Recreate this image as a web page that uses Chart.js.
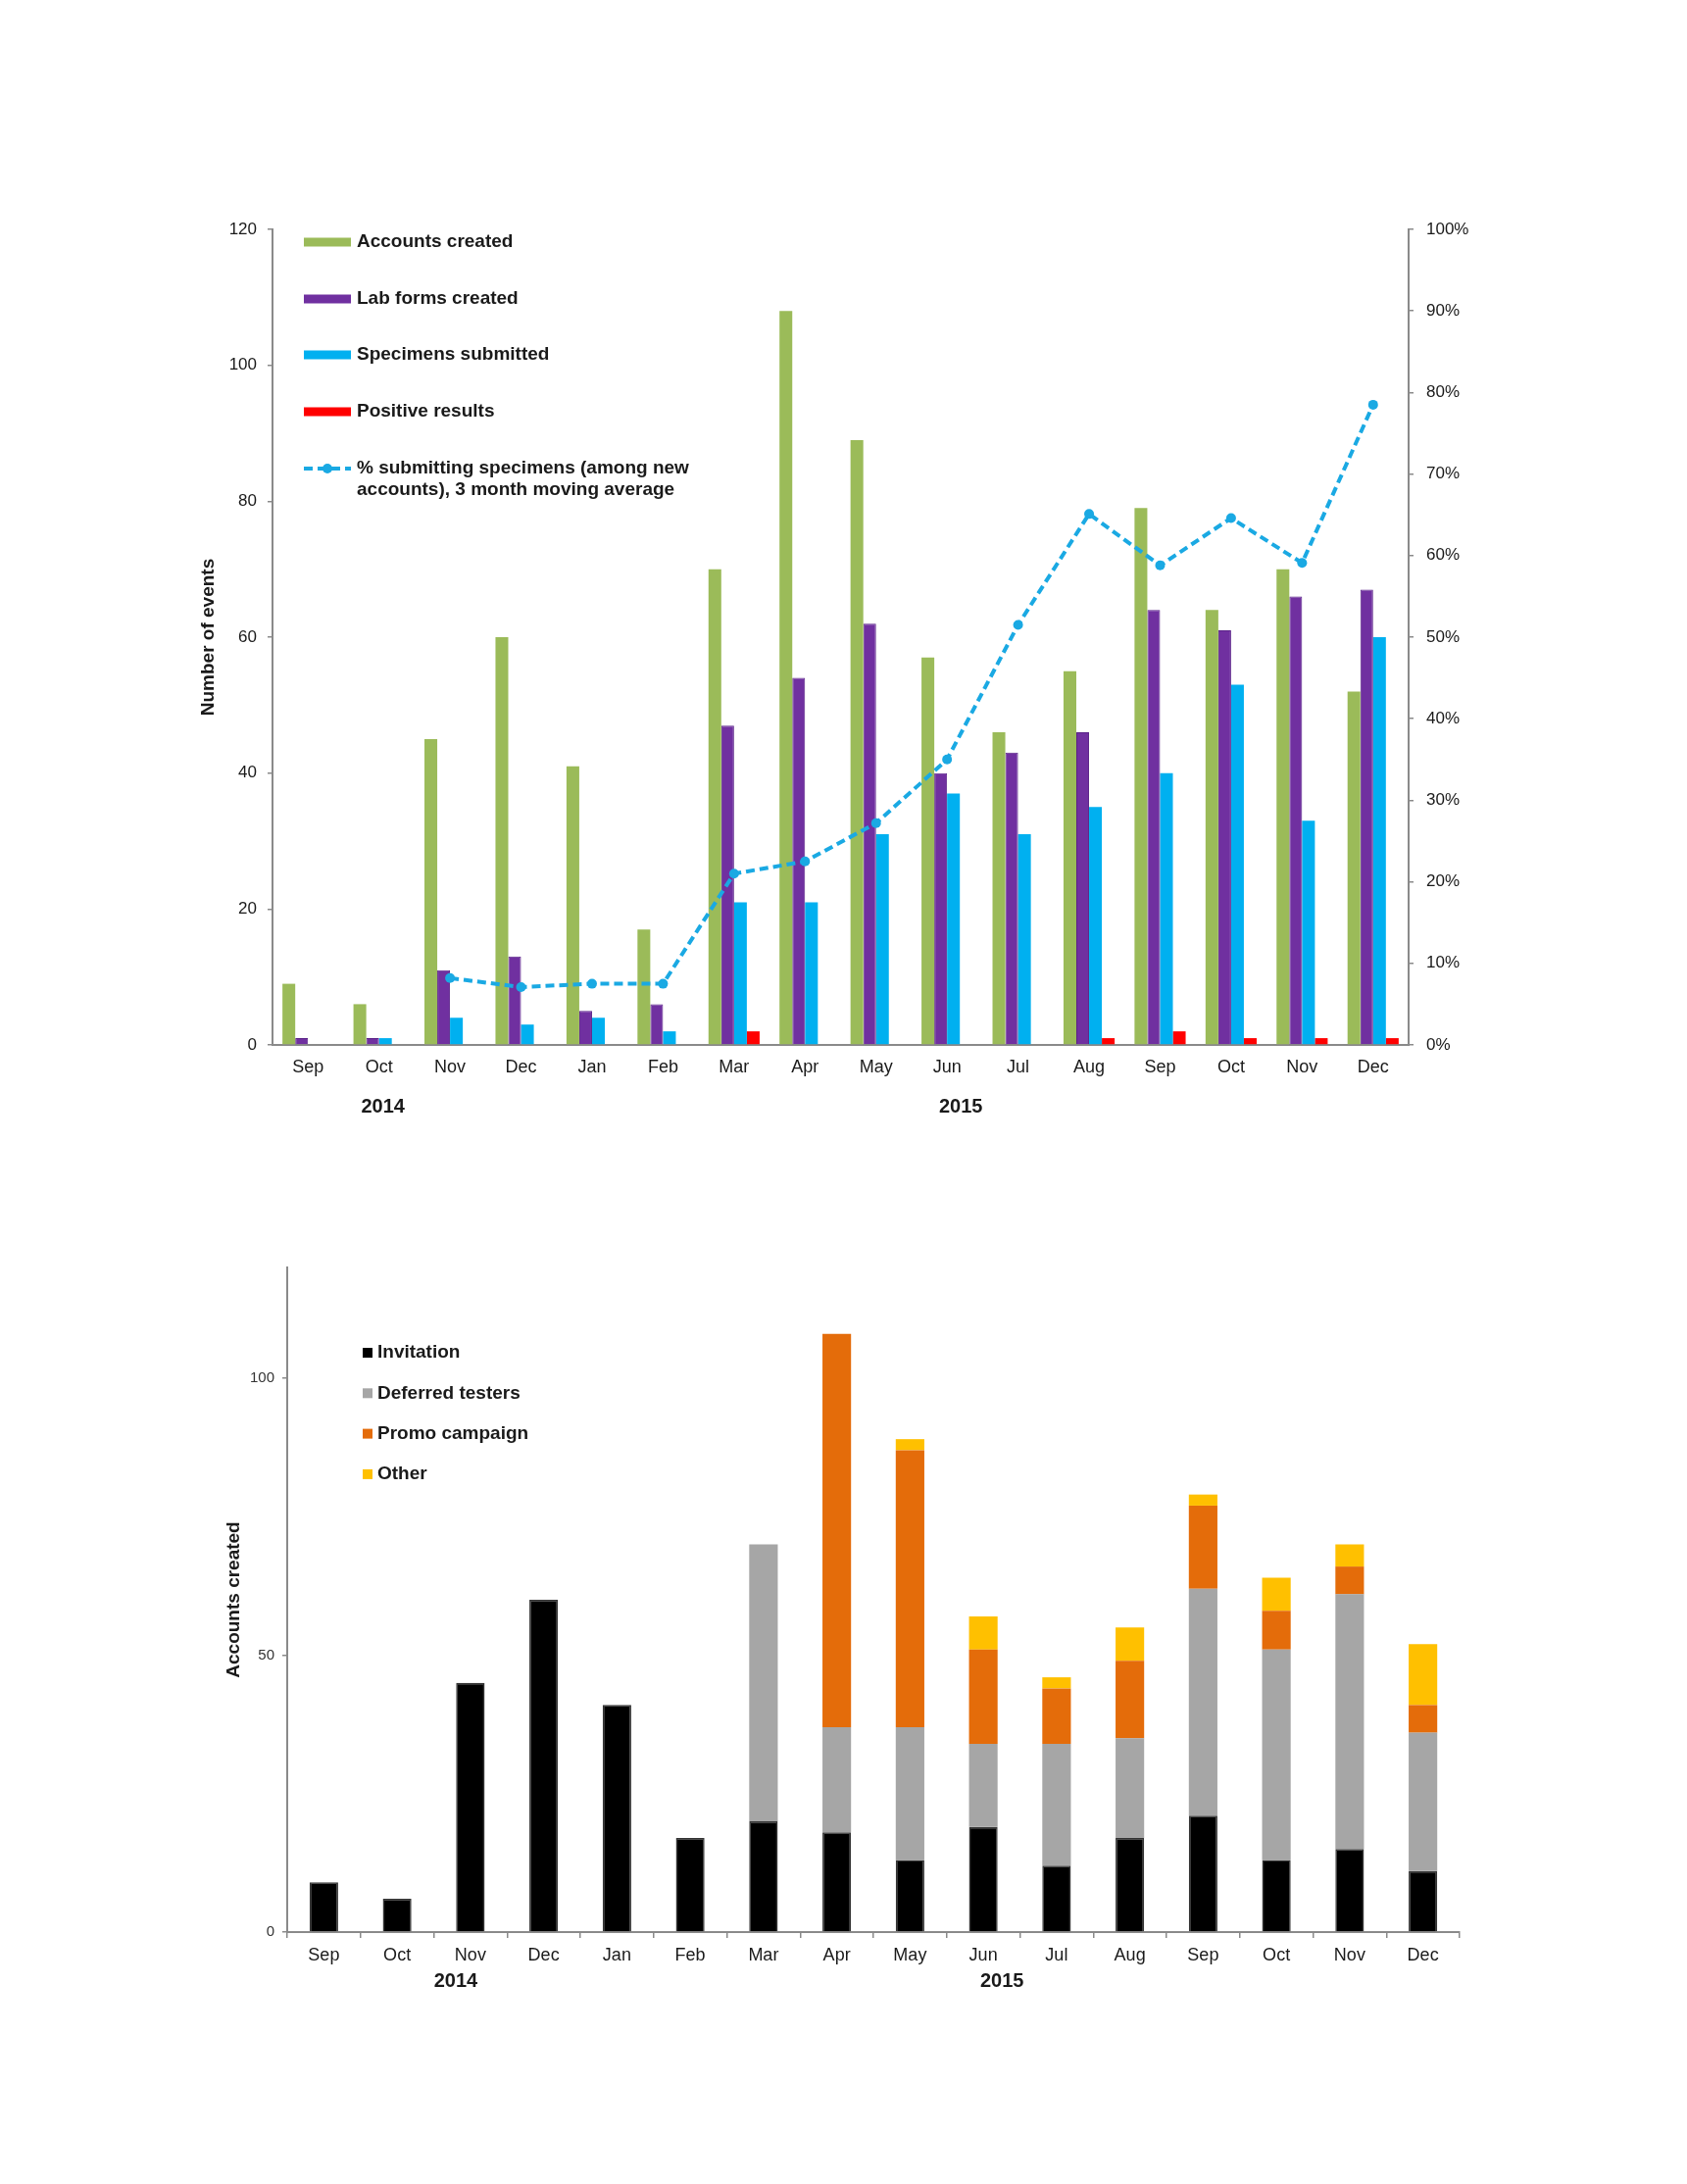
<!DOCTYPE html>
<html>
<head>
<meta charset="utf-8">
<script src="https://cdn.jsdelivr.net/npm/chart.js@4.4.1/dist/chart.umd.min.js"></script>
<style>
    html, body { margin: 0; padding: 0; background: #fff; }
    #page { position: relative; width: 1721px; height: 2228px; overflow: hidden; background: #fff; }
    #eventsChart { position: absolute; left: 0; top: 0; }
    #accountsChart { position: absolute; left: 0; top: 1150px; }
</style>
</head>
<body>
<div id="page">
    <canvas id="eventsChart" width="1721" height="1150"></canvas>
    <canvas id="accountsChart" width="1721" height="1078"></canvas>
</div>
<script>
// months, Sep 2014 - Dec 2015
var months = ['Sep', 'Oct', 'Nov', 'Dec', 'Jan', 'Feb', 'Mar', 'Apr', 'May', 'Jun', 'Jul', 'Aug', 'Sep', 'Oct', 'Nov', 'Dec'];

// top chart
var accountsCreated = [9, 6, 45, 60, 41, 17, 70, 108, 89, 57, 46, 55, 79, 64, 70, 52];
var labFormsCreated = [1, 1, 11, 13, 5, 6, 47, 54, 62, 40, 43, 46, 64, 61, 66, 67];
var specimensSubmitted = [0, 1, 4, 3, 4, 2, 21, 21, 31, 37, 31, 35, 40, 53, 33, 60];
var positiveResults = [0, 0, 0, 0, 0, 0, 2, 0, 0, 0, 0, 1, 2, 1, 1, 1];
var pctSubmitting = [null, null, 8.2, 7.1, 7.5, 7.5, 21.0, 22.5, 27.2, 35.0, 51.5, 65.1, 58.8, 64.6, 59.1, 78.5];
var eventTicks = [0, 20, 40, 60, 80, 100, 120];
var pctTicks = [0, 10, 20, 30, 40, 50, 60, 70, 80, 90, 100];

// bottom chart, accounts created by source
var invitation = [9, 6, 45, 60, 41, 17, 20, 18, 13, 19, 12, 17, 21, 13, 15, 11];
var deferredTesters = [0, 0, 0, 0, 0, 0, 50, 19, 24, 15, 22, 18, 41, 38, 46, 25];
var promoCampaign = [0, 0, 0, 0, 0, 0, 0, 71, 50, 17, 10, 14, 15, 7, 5, 5];
var otherSource = [0, 0, 0, 0, 0, 0, 0, 0, 2, 6, 2, 6, 2, 6, 4, 11];
var accountTicks = [0, 50, 100];

var FONT = '"Liberation Sans", Arial, Helvetica, sans-serif';
var AXIS_COLOR = '#8a8a8a';
Chart.defaults.font.family = FONT;
Chart.defaults.color = '#1a1a1a';

// year captions under the month labels
var yearLabels = {
    id: 'yearLabels',
    afterDraw: function (chart, args, opts) {
        var ctx = chart.ctx;
        var x = chart.scales.x;
        ctx.save();
        ctx.font = 'bold 20px ' + FONT;
        ctx.fillStyle = '#1a1a1a';
        ctx.textAlign = 'center';
        ctx.textBaseline = 'middle';
        opts.items.forEach(function (it) {
            ctx.fillText(it.text, x.getPixelForValue(it.index) + it.dx, opts.y);
        });
        ctx.restore();
    }
};

// legend drawn inside the plot, like the original
var eventsLegend = {
    id: 'eventsLegend',
    afterDraw: function (chart) {
        var ctx = chart.ctx;
        var ds = chart.data.datasets;
        var rows = [247, 305, 362, 420];
        ctx.save();
        ctx.font = 'bold 19px ' + FONT;
        ctx.textBaseline = 'middle';
        for (var i = 0; i < 4; i++) {
            ctx.fillStyle = ds[i + 1].backgroundColor;
            ctx.fillRect(310, rows[i] - 4.5, 48, 9);
            ctx.fillStyle = '#1a1a1a';
            ctx.fillText(ds[i + 1].label, 364, rows[i]);
        }
        var line = ds[0];
        ctx.strokeStyle = line.borderColor;
        ctx.lineWidth = 4;
        ctx.setLineDash([9, 5]);
        ctx.beginPath();
        ctx.moveTo(310, 478);
        ctx.lineTo(358, 478);
        ctx.stroke();
        ctx.setLineDash([]);
        ctx.fillStyle = line.borderColor;
        ctx.beginPath();
        ctx.arc(334, 478, 5, 0, Math.PI * 2);
        ctx.fill();
        ctx.fillStyle = '#1a1a1a';
        ctx.fillText(line.label[0], 364, 478);
        ctx.fillText(line.label[1], 364, 500);
        ctx.restore();
    }
};

var accountsLegend = {
    id: 'accountsLegend',
    afterDraw: function (chart) {
        var ctx = chart.ctx;
        var ds = chart.data.datasets;
        ctx.save();
        ctx.font = 'bold 19px ' + FONT;
        ctx.textBaseline = 'middle';
        for (var i = 0; i < ds.length; i++) {
            var y = 230 + i * 41.3;
            ctx.fillStyle = ds[i].backgroundColor;
            ctx.fillRect(370, y - 5, 10, 10);
            ctx.fillStyle = '#1a1a1a';
            ctx.fillText(ds[i].label, 385, y);
        }
        ctx.restore();
    }
};

function fixWidth(w) {
    return function (scale) { scale.width = w; };
}
function fixHeight(h) {
    return function (scale) { scale.height = h; };
}

function renderEvents() {
    var ctx = document.getElementById('eventsChart').getContext('2d');
    new Chart(ctx, {
        type: 'bar',
        data: {
            labels: months,
            datasets: [{
                type: 'line',
                label: ['% submitting specimens (among new', 'accounts), 3 month moving average'],
                data: pctSubmitting,
                yAxisID: 'y2',
                borderColor: '#1aa9e3',
                backgroundColor: '#1aa9e3',
                borderWidth: 4,
                borderDash: [9, 5],
                pointRadius: 5,
                pointBorderWidth: 0,
                pointBackgroundColor: '#1aa9e3',
                tension: 0,
                order: 0
            }, {
                label: 'Accounts created',
                data: accountsCreated,
                backgroundColor: '#9bbb59',
                order: 1
            }, {
                label: 'Lab forms created',
                data: labFormsCreated,
                backgroundColor: '#7030a0',
                borderColor: '#5a2288',
                borderWidth: 1,
                order: 1
            }, {
                label: 'Specimens submitted',
                data: specimensSubmitted,
                backgroundColor: '#00b0f0',
                order: 1
            }, {
                label: 'Positive results',
                data: positiveResults,
                backgroundColor: '#ff0000',
                order: 1
            }]
        },
        options: {
            responsive: false,
            animation: false,
            layout: {padding: {top: 234, left: 0, right: 0, bottom: 0}},
            datasets: {bar: {categoryPercentage: 0.72, barPercentage: 1.0}},
            plugins: {
                legend: {display: false},
                tooltip: {enabled: false},
                yearLabels: {
                    y: 1129,
                    items: [{text: '2014', index: 1, dx: 4}, {text: '2015', index: 9, dx: 14}]
                }
            },
            scales: {
                x: {
                    grid: {display: false, drawTicks: false},
                    border: {display: true, color: AXIS_COLOR, width: 2},
                    ticks: {font: {size: 18}, padding: 12, maxRotation: 0, autoSkip: false},
                    afterFit: fixHeight(84)
                },
                y: {
                    position: 'left',
                    min: 0,
                    max: 120,
                    afterBuildTicks: function (scale) {
                        scale.ticks = eventTicks.map(function (v) { return {value: v}; });
                    },
                    grid: {drawOnChartArea: false, drawTicks: true, tickLength: 5, color: AXIS_COLOR, lineWidth: 1.5},
                    border: {display: true, color: AXIS_COLOR, width: 2},
                    ticks: {font: {size: 17}, padding: 11},
                    title: {display: true, text: 'Number of events', font: {size: 19, weight: 'bold'}, padding: {top: 201, bottom: 0}},
                    afterFit: fixWidth(278)
                },
                y2: {
                    position: 'right',
                    min: 0,
                    max: 100,
                    afterBuildTicks: function (scale) {
                        scale.ticks = pctTicks.map(function (v) { return {value: v}; });
                    },
                    grid: {drawOnChartArea: false, drawTicks: true, tickLength: 5, color: AXIS_COLOR, lineWidth: 1.5},
                    border: {display: true, color: AXIS_COLOR, width: 2},
                    ticks: {
                        font: {size: 17},
                        padding: 13,
                        callback: function (v) { return v + '%'; }
                    },
                    afterFit: fixWidth(284)
                }
            }
        },
        plugins: [eventsLegend, yearLabels]
    });
}

function renderAccounts() {
    var ctx = document.getElementById('accountsChart').getContext('2d');
    new Chart(ctx, {
        type: 'bar',
        data: {
            labels: months,
            datasets: [{
                label: 'Invitation',
                data: invitation,
                backgroundColor: '#000000',
                borderColor: '#333333',
                borderWidth: 1.5
            }, {
                label: 'Deferred testers',
                data: deferredTesters,
                backgroundColor: '#a6a6a6'
            }, {
                label: 'Promo campaign',
                data: promoCampaign,
                backgroundColor: '#e46c0a'
            }, {
                label: 'Other',
                data: otherSource,
                backgroundColor: '#ffc000'
            }]
        },
        options: {
            responsive: false,
            animation: false,
            layout: {padding: {top: 143, left: 0, right: 232, bottom: 0}},
            datasets: {bar: {categoryPercentage: 0.39, barPercentage: 1.0}},
            plugins: {
                legend: {display: false},
                tooltip: {enabled: false},
                yearLabels: {
                    y: 871,
                    items: [{text: '2014', index: 2, dx: -15}, {text: '2015', index: 9, dx: 19}]
                }
            },
            scales: {
                x: {
                    stacked: true,
                    grid: {drawOnChartArea: false, drawTicks: true, tickLength: 6, color: AXIS_COLOR, lineWidth: 1.5},
                    border: {display: true, color: AXIS_COLOR, width: 2},
                    ticks: {font: {size: 18}, padding: 7, maxRotation: 0, autoSkip: false},
                    afterFit: fixHeight(257)
                },
                y: {
                    stacked: true,
                    min: 0,
                    max: 120,
                    afterBuildTicks: function (scale) {
                        scale.ticks = accountTicks.map(function (v) { return {value: v}; });
                    },
                    grid: {drawOnChartArea: false, drawTicks: true, tickLength: 5, color: AXIS_COLOR, lineWidth: 1.5},
                    border: {display: true, color: AXIS_COLOR, width: 2},
                    ticks: {font: {size: 15}, color: '#333', padding: 8},
                    title: {display: true, text: 'Accounts created', font: {size: 19, weight: 'bold'}, padding: {top: 227, bottom: 0}},
                    afterFit: fixWidth(293)
                }
            }
        },
        plugins: [accountsLegend, yearLabels]
    });
}

renderEvents();
renderAccounts();
</script>
</body>
</html>
